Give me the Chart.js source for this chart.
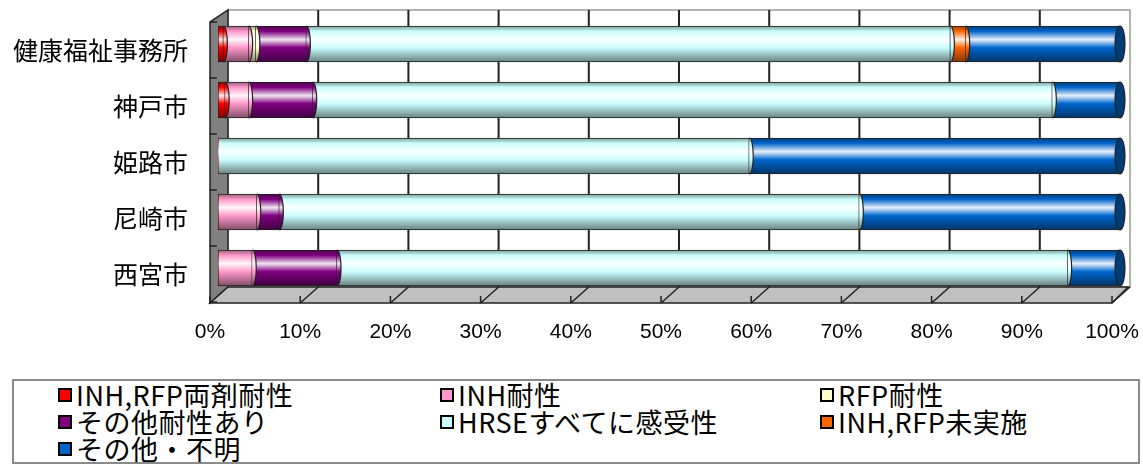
<!DOCTYPE html>
<html>
<head>
<meta charset="utf-8">
<script src="https://cdn.jsdelivr.net/npm/chart.js@4"></script>
<style>
  body { margin: 0; background: #fff; }
  #wrap { position: relative; width: 1143px; height: 465px; }
  #chartBox { position: absolute; left: 0; top: 0; width: 1143px; height: 356px; }
  #legend {
    position: absolute; left: 12px; top: 379px; width: 1128px; height: 85px;
    box-sizing: border-box; border: 2px solid #8a8a8a; padding: 1px 0 0 44px;
    display: grid; grid-template-columns: 382px 380px auto;
    font-family: "Noto Sans CJK JP", sans-serif; font-size: 27px; letter-spacing: 0.5px;
    line-height: 26px; color: #000;
  }
  .item { display: flex; align-items: center; white-space: nowrap; }
  .mark { width: 10px; height: 10px; border: 2px solid #000; margin-right: 4px; flex: none; }
</style>
</head>
<body>
<div id="wrap">
  <div id="chartBox"><canvas id="myChart"></canvas></div>
  <div id="legend"></div>
</div>
<script>
// categories and series (percent of each area)
const categories = ['健康福祉事務所', '神戸市', '姫路市', '尼崎市', '西宮市'];
const seriesNames = ['INH,RFP両剤耐性', 'INH耐性', 'RFP耐性', 'その他耐性あり', 'HRSEすべてに感受性', 'INH,RFP未実施', 'その他・不明'];
const seriesColors = ['#ff0000', '#ff99cc', '#ffffcc', '#800080', '#ccffff', '#ff6600', '#0066cc'];

const bothResistant = [0.6, 0.8, 0, 0, 0];
const inhResistant = [2.8, 2.6, 0, 4.3, 3.8];
const rfpResistant = [0.8, 0, 0, 0, 0];
const otherResistant = [5.6, 7.1, 0, 2.5, 9.4];
const allSensitive = [71.4, 82.0, 58.9, 64.3, 81.0];
const notTested = [1.7, 0, 0, 0, 0];
const unknown = [17.1, 7.5, 41.1, 28.9, 5.8];
const seriesValues = [bothResistant, inhResistant, rfpResistant, otherResistant, allSensitive, notTested, unknown];

const xTicks = [0, 10, 20, 30, 40, 50, 60, 70, 80, 90, 100];

const BAR_H = 36;

function mix(hex, target, t) {
    const c = [1, 3, 5].map(i => parseInt(hex.substr(i, 2), 16));
    const o = c.map(v => Math.round(v + (target - v) * t));
    return `rgb(${o[0]},${o[1]},${o[2]})`;
}

// Cylinder-like shading, built per bar from the y scale
function cylinder(color) {
    return function (context) {
        const chart = context.chart;
        if (!chart.chartArea || !chart.scales.y) return color;
        const y = chart.scales.y.getPixelForValue(context.dataIndex);
        const g = chart.ctx.createLinearGradient(0, y - BAR_H / 2, 0, y + BAR_H / 2);
        g.addColorStop(0, mix(color, 0, 0.4));
        g.addColorStop(0.15, color);
        g.addColorStop(0.38, mix(color, 255, 0.9));
        g.addColorStop(0.6, color);
        g.addColorStop(1, mix(color, 0, 0.5));
        return g;
    };
}

// Draw the 3D box: back wall, left wall, floor, grid
const boxPlugin = {
    id: 'box3d',
    beforeDatasetsDraw(chart) {
        const { ctx, chartArea: a, scales } = chart;
        const L = a.left, R = a.right, T = a.top, B = a.bottom;
        ctx.save();
        ctx.lineWidth = 1.5;
        // back wall
        ctx.fillStyle = '#fff';
        ctx.fillRect(L + 10, T - 6, R - L, B - T - 3);
        ctx.strokeStyle = '#999';
        ctx.strokeRect(L + 10, T - 6, R - L, B - T - 3);
        // grid on back wall
        ctx.strokeStyle = '#222';
        ctx.lineWidth = 2;
        xTicks.forEach(v => {
            if (v === 0 || v === 100) return;
            const x = scales.x.getPixelForValue(v) + 10;
            ctx.beginPath();
            ctx.moveTo(x, T - 6);
            ctx.lineTo(x, B - 9);
            ctx.stroke();
        });
        // left wall
        ctx.lineWidth = 1.5;
        ctx.fillStyle = '#808080';
        ctx.beginPath();
        ctx.moveTo(L + 10, T - 6);
        ctx.lineTo(L + 10, B - 9);
        ctx.lineTo(L - 8, B + 7);
        ctx.lineTo(L - 8, T + 6);
        ctx.closePath();
        ctx.fill();
        ctx.strokeStyle = '#222';
        ctx.stroke();
        // floor
        ctx.fillStyle = '#c0c0c0';
        ctx.beginPath();
        ctx.moveTo(L + 10, B - 9);
        ctx.lineTo(R + 8, B - 9);
        ctx.lineTo(R - 8, B + 7);
        ctx.lineTo(L - 8, B + 7);
        ctx.closePath();
        ctx.fill();
        ctx.stroke();
        // floor tick lines
        xTicks.forEach(v => {
            const x = scales.x.getPixelForValue(v);
            ctx.beginPath();
            if (v > 0) {
                ctx.moveTo(x + 10, B - 9);
                ctx.lineTo(x - 8, B + 7);
            }
            ctx.moveTo(x - 8, B);
            ctx.lineTo(x - 8, B + 7);
            ctx.stroke();
        });
        // category ticks on the left wall
        for (let i = 0; i <= categories.length; i++) {
            const y = scales.y.getPixelForValue(i - 0.5) + 6;
            ctx.beginPath();
            ctx.moveTo(L - 8, y);
            ctx.lineTo(L - 1, y);
            ctx.stroke();
        }
        ctx.restore();
    },
    afterDatasetsDraw(chart) {
        // rounded ends of each segment
        const ctx = chart.ctx;
        ctx.save();
        ctx.lineWidth = 1.2;
        ctx.strokeStyle = '#222';
        const last = chart.data.datasets.length - 1;
        chart.data.datasets.forEach((ds, di) => {
            chart.getDatasetMeta(di).data.forEach(el => {
                const w = el.x - el.base;
                if (w < 0.5) return;
                const h = el.height / 2;
                ctx.beginPath();
                if (di === last) {
                    ctx.ellipse(el.x, el.y, 5, h, 0, 0, Math.PI * 2);
                    ctx.fillStyle = '#003c78';
                } else {
                    ctx.ellipse(el.x, el.y, 4, h, 0, -Math.PI / 2, Math.PI / 2);
                    ctx.fillStyle = el.options.backgroundColor;
                }
                ctx.fill();
                ctx.stroke();
            });
        });
        ctx.restore();
    }
};

const ctx = document.getElementById('myChart').getContext('2d');
const chart = new Chart(ctx, {
    type: 'bar',
    data: {
        labels: categories,
        datasets: seriesNames.map((name, i) => ({
            label: name,
            data: seriesValues[i],
            backgroundColor: cylinder(seriesColors[i]),
            borderColor: '#222',
            borderWidth: c => (c.raw > 0 ? 1 : 0),
            borderSkipped: false,
            barThickness: BAR_H
        }))
    },
    options: {
        indexAxis: 'y',
        responsive: true,
        maintainAspectRatio: false,
        animation: false,
        layout: { padding: { top: 16, right: 23, left: 0, bottom: 0 } },
        plugins: {
            legend: { display: false },
            tooltip: { enabled: false }
        },
        scales: {
            x: {
                stacked: true,
                min: 0,
                max: 100,
                grid: { display: false, drawTicks: false },
                border: { display: false },
                afterFit: s => {
                    s.height = 60;
                    s.paddingLeft = 0;
                    s.paddingRight = 0;
                },
                afterBuildTicks: s => { s.ticks = xTicks.map(v => ({ value: v })); },
                ticks: {
                    padding: 24,
                    labelOffset: -8,
                    color: '#000',
                    font: { family: '"Liberation Sans", sans-serif', size: 21 },
                    callback: v => v + '%'
                }
            },
            y: {
                stacked: true,
                grid: { display: false, drawTicks: false },
                border: { display: false },
                afterFit: s => {
                    s.width = 218;
                    s.paddingTop = 0;
                    s.paddingBottom = 0;
                },
                ticks: {
                    padding: 30,
                    labelOffset: 6,
                    color: '#000',
                    font: { family: '"Noto Sans CJK JP", sans-serif', size: 25 }
                }
            }
        }
    },
    plugins: [boxPlugin]
});

// legend in three columns
const legend = document.getElementById('legend');
seriesNames.forEach((name, i) => {
    const item = document.createElement('div');
    item.className = 'item';
    const mark = document.createElement('span');
    mark.className = 'mark';
    mark.style.background = seriesColors[i];
    const text = document.createElement('span');
    text.textContent = name;
    item.appendChild(mark);
    item.appendChild(text);
    legend.appendChild(item);
});
</script>
</body>
</html>
